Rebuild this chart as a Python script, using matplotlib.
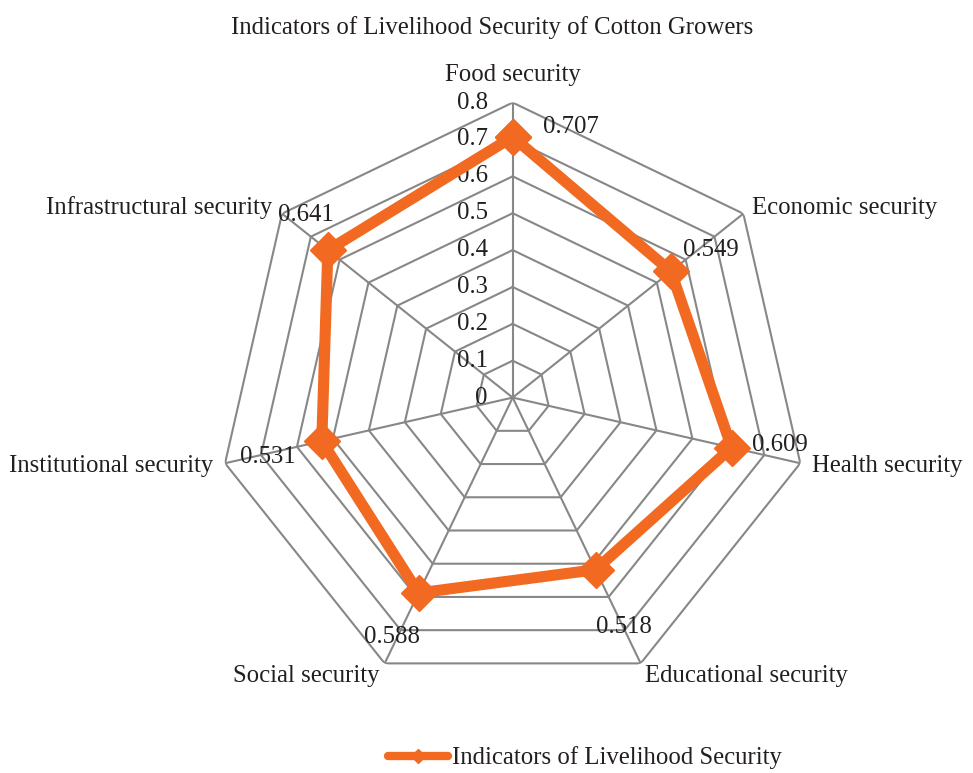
import numpy as np
import matplotlib
matplotlib.use("Agg")
import matplotlib.pyplot as plt

categories = ["Food security", "Economic security", "Health security",
              "Educational security", "Social security",
              "Institutional security", "Infrastructural security"]
values = [0.707, 0.549, 0.609, 0.518, 0.588, 0.531, 0.641]
ticks = [0, 0.1, 0.2, 0.3, 0.4, 0.5, 0.6, 0.7, 0.8]
tick_labels = ["0", "0.1", "0.2", "0.3", "0.4", "0.5", "0.6", "0.7", "0.8"]
series_name = "Indicators of Livelihood Security"
title = "Indicators of Livelihood Security of Cotton Growers"

plt.rcParams['font.family'] = ['Liberation Serif', 'DejaVu Serif']
FS = 17.8
orange = "#F26A21"
grid_c = "#878787"
txt_c = "#231F20"

fig = plt.figure(figsize=(9.73, 7.73), dpi=100)
ax = fig.add_axes([0.2237, 0.104, 0.6064, 0.7633], projection='polar')
ax.set_theta_offset(np.pi / 2)
ax.set_theta_direction(-1)
ax.set_ylim(0, 0.8)
ax.grid(False)
ax.spines['polar'].set_visible(False)
ax.set_xticks([])
ax.set_yticks([])
ax.patch.set_alpha(0)

n = len(categories)
angles = np.linspace(0, 2 * np.pi, n, endpoint=False)
closed = np.append(angles, angles[0])

# heptagonal grid
for t in ticks[1:]:
    ax.plot(closed, [t] * (n + 1), color=grid_c, lw=1.5, zorder=1)
for a in angles:
    ax.plot([a, a], [0, 0.8], color=grid_c, lw=1.5, zorder=1)

# tick labels
for t, lab in zip(ticks, tick_labels):
    ax.annotate(lab, xy=(0, t), xytext=(-25, 0), textcoords='offset pixels',
                ha='right', va='center', fontsize=FS, color=txt_c)

# data
vals = values + [values[0]]
ax.plot(closed, vals, color=orange, lw=8, marker='D', markersize=18,
        zorder=3, solid_joinstyle='miter')

# category labels
cat_off = [(0, 28, 'center'), (9, 6, 'left'), (12, -3, 'left'), (4, -13, 'left'),
           (-5, -13, 'right'), (-12, -3, 'right'), (-10, 6, 'right')]
for a, c, (dx, dy, ha) in zip(angles, categories, cat_off):
    ax.annotate(c, xy=(a, 0.8), xytext=(dx, dy), textcoords='offset pixels',
                ha=ha, va='center', fontsize=FS, color=txt_c, annotation_clip=False)

# data labels
lab_off = [(30, 10, 'left'), (12, 21, 'left'), (20, 3, 'left'), (0, -57, 'left'),
           (1, -44, 'right'), (-26, -16, 'right'), (6, 35, 'right')]
for a, v, (dx, dy, ha) in zip(angles, values, lab_off):
    ax.annotate(f"{v:.3f}", xy=(a, v), xytext=(dx, dy), textcoords='offset pixels',
                ha=ha, va='center', fontsize=FS, color=txt_c, annotation_clip=False)

fig.text(0.506, 0.965, title, ha='center', va='center', fontsize=FS, color=txt_c)

handle = plt.Line2D([], [], color=orange, lw=6, marker='D', markersize=7,
                    solid_capstyle='round')
leg = fig.legend([handle], [series_name], loc='center',
                 bbox_to_anchor=(0.601, 0.0194), frameon=False,
                 fontsize=FS, handlelength=2.45, handletextpad=0.15,
                 borderpad=0, borderaxespad=0)
for t in leg.get_texts():
    t.set_color(txt_c)

fig.savefig("out.png", dpi=100)
